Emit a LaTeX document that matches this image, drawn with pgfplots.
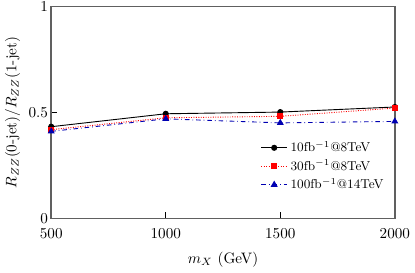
\documentclass[border=0pt]{standalone}
\usepackage{pgfplots}
\pgfplotsset{compat=1.18}
\begin{document}
\begin{tikzpicture}
\begin{axis}[
  scale only axis,
  width=227pt, height=140pt,
  xmin=500, xmax=2000, ymin=0, ymax=1,
  xtick={500,1000,1500,2000}, ytick={0,0.5,1},
  yticklabels={0,0.5,1},
  xticklabel style={/pgf/number format/set thousands separator={}, yshift=-3pt},
  yticklabel style={xshift=-1pt, inner sep=1pt},
  tick align=inside, tick pos=left,
  axis line style={gray!75!black, line width=1.1pt},
  every tick/.style={black, line width=0.5pt},
  major tick length=4pt,
  xlabel={$m_X$ (GeV)},
  xlabel style={yshift=-2.5pt},
  ylabel={$R_{ZZ}(\mbox{0-jet})/R_{ZZ}(\mbox{1-jet})$},
  ylabel style={yshift=1pt},
  legend style={draw=none, fill=none, at={(0.99,0.1)}, anchor=south east, row sep=0pt, font=\fontsize{8.5}{10}\selectfont},
  legend cell align=left,
]
\addplot[black, mark=*, mark size=1.7pt, line width=0.6pt] coordinates {(500,0.433) (1000,0.494) (1500,0.502) (2000,0.526)};
\addlegendentry{10fb$^{-1}$@8TeV}
\addplot[red, densely dotted, mark=square*, mark size=1.6pt, mark options={solid}, line width=0.6pt] coordinates {(500,0.419) (1000,0.475) (1500,0.482) (2000,0.521)};
\addlegendentry{30fb$^{-1}$@8TeV}
\addplot[blue!70!black, dash dot, mark=triangle*, mark size=2.1pt, mark options={solid}, line width=0.6pt] coordinates {(500,0.411) (1000,0.470) (1500,0.451) (2000,0.458)};
\addlegendentry{100fb$^{-1}$@14TeV}
\end{axis}
\end{tikzpicture}
\end{document}
